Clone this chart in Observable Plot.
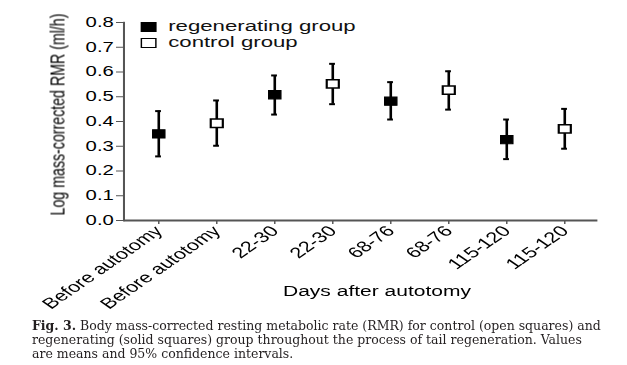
<!DOCTYPE html>
<html>
<head>
<meta charset="utf-8">
<script src="https://cdn.jsdelivr.net/npm/d3@7"></script>
<script src="https://cdn.jsdelivr.net/npm/@observablehq/plot@0.6"></script>
<style>
  html, body { margin: 0; padding: 0; background: #fff; }
  #wrap { position: relative; width: 627px; height: 365px; overflow: hidden; background: #fff; }
  #chart { position: absolute; left: 0; top: 0; width: 432px; transform: scaleX(1.45); transform-origin: 0 0; }
  .leg { position: absolute; font-family: "Liberation Sans", Arial, sans-serif; font-size: 15.3px; line-height: 15px; color: #111; white-space: nowrap; }
  .sw { position: absolute; box-sizing: border-box; }
  #caption { position: absolute; left: 32px; top: 319px; font-family: "DejaVu Serif", serif; font-size: 12.5px; line-height: 14px; color: #231f20; white-space: nowrap; }
</style>
</head>
<body>
<div id="wrap">
  <div id="chart"></div>
  <div id="caption"></div>
</div>
<script>
// ---- data ----
const xKeys = ["0", "1", "2", "3", "4", "5", "6", "7"];
const xLabels = ["Before autotomy", "Before autotomy", "22-30", "22-30", "68-76", "68-76", "115-120", "115-120"];
const groups = ["regenerating", "control", "regenerating", "control", "regenerating", "control", "regenerating", "control"];
const means = [0.350, 0.393, 0.508, 0.552, 0.482, 0.527, 0.327, 0.370];
const lower = [0.259, 0.302, 0.428, 0.470, 0.408, 0.448, 0.248, 0.290];
const upper = [0.442, 0.485, 0.586, 0.633, 0.559, 0.603, 0.408, 0.451];
const yTicks = [0.0, 0.1, 0.2, 0.3, 0.4, 0.5, 0.6, 0.7, 0.8];
const legendLabels = ["regenerating group", "control group"];
const yLabel = "Log mass-corrected RMR (ml/h)";
const xTitle = "Days after autotomy";
const captionBold = "Fig. 3.";
const captionLines = [
  " Body mass-corrected resting metabolic rate (RMR) for control (open squares) and",
  "regenerating (solid squares) group throughout the process of tail regeneration. Values",
  "are means and 95% confidence intervals."
];

const rows = xKeys.map((k, i) => ({key: k, label: xLabels[i], group: groups[i], mean: means[i], lo: lower[i], hi: upper[i]}));
const regen = rows.filter(d => d.group === "regenerating");
const ctrl = rows.filter(d => d.group === "control");

const font = "'Liberation Sans', Arial, Helvetica, sans-serif";

const plot = Plot.plot({
  width: 432,
  height: 310,
  marginLeft: 85,
  marginRight: 20,
  marginTop: 22,
  marginBottom: 90,
  style: {fontFamily: font, background: "white", color: "black", overflow: "visible"},
  x: {type: "band", domain: xKeys, padding: 0, label: null},
  y: {domain: [0, 0.8], label: null},
  marks: [
    Plot.frame({anchor: "left", stroke: "#555", strokeWidth: 1.4}),
    Plot.ruleY([0], {stroke: "#555", strokeWidth: 2}),
    Plot.axisY({ticks: yTicks, tickFormat: d3.format(".1f"), tickSize: 5, tickPadding: 2, fontSize: 14, stroke: "#555", fill: "black", label: null}),
    Plot.axisX({tickFormat: k => xLabels[+k], tickRotate: -45, tickSize: 4, tickPadding: 4, fontSize: 15, stroke: "#555", fill: "black", label: null}),
    Plot.ruleX(rows, {x: "key", y1: "lo", y2: "hi", stroke: "black", strokeWidth: 1.8}),
    Plot.tickY(rows, {x: "key", y: "hi", stroke: "black", strokeWidth: 2, insetLeft: 18, insetRight: 18}),
    Plot.tickY(rows, {x: "key", y: "lo", stroke: "black", strokeWidth: 2, insetLeft: 18, insetRight: 18}),
    Plot.dot(regen, {x: "key", y: "mean", symbol: "square", r: 4.7, fill: "black", stroke: "black", strokeWidth: 1}),
    Plot.dot(ctrl, {x: "key", y: "mean", symbol: "square", r: 4.7, fill: "white", stroke: "black", strokeWidth: 1.5}),
    Plot.text([xTitle], {frameAnchor: "bottom", dx: 11, dy: 71, fontSize: 14.5, textAnchor: "middle", lineAnchor: "middle", fill: "black"}),
    Plot.text([yLabel], {frameAnchor: "left", rotate: -90, dx: -45.5, dy: -7, fontSize: 14.2, textAnchor: "middle", lineAnchor: "middle", fill: "black"})
  ]
});

const chart = document.getElementById("chart");
chart.appendChild(plot);

// legend (drawn in the same scaled space)
const legendStyles = [
  {fill: "black", border: "none", top: 22, textTop: 18.2},
  {fill: "white", border: "1.5px solid black", top: 37.5, textTop: 34.2}
];
legendLabels.forEach((lab, i) => {
  const s = legendStyles[i];
  const sw = document.createElement("div");
  sw.className = "sw";
  sw.style.left = "97px";
  sw.style.top = s.top + "px";
  sw.style.width = "10.5px";
  sw.style.height = "10px";
  sw.style.background = s.fill;
  sw.style.border = s.border;
  chart.appendChild(sw);
  const t = document.createElement("div");
  t.className = "leg";
  t.style.left = "116px";
  t.style.top = s.textTop + "px";
  t.textContent = lab;
  chart.appendChild(t);
});

// caption
const cap = document.getElementById("caption");
const b = document.createElement("b");
b.textContent = captionBold;
cap.appendChild(b);
captionLines.forEach((line, i) => {
  cap.appendChild(document.createTextNode(line));
  if (i < captionLines.length - 1) cap.appendChild(document.createElement("br"));
});
</script>
</body>
</html>
